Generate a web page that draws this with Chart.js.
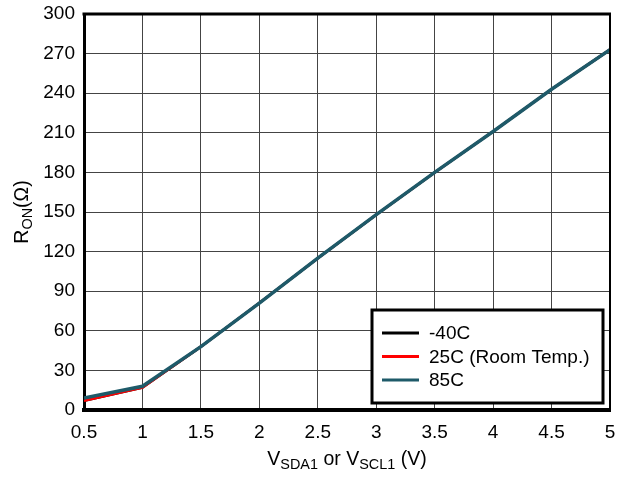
<!DOCTYPE html>
<html>
<head>
<meta charset="utf-8">
<script src="https://cdn.jsdelivr.net/npm/chart.js@4.4.0/dist/chart.umd.min.js"></script>
<style>
  html, body { margin: 0; padding: 0; background: #fff; }
  #wrap { width: 618px; height: 477px; }
</style>
</head>
<body>
<div id="wrap"><canvas id="ronChart" width="618" height="477"></canvas></div>
<script>
// Data
const voltages = [0.5, 1, 1.5, 2, 2.5, 3, 3.5, 4, 4.5, 5];
const ronMinus40 = [7, 17, 48, 81, 115, 148, 180, 211, 243, 273];
const ron25 = [7, 17, 48, 81, 115, 148, 180, 211, 243, 273];
const ron85 = [9, 18, 48, 81, 115, 148, 180, 211, 243, 273];
const seriesNames = ['-40C', '25C (Room Temp.)', '85C'];
const xTicks = [0.5, 1, 1.5, 2, 2.5, 3, 3.5, 4, 4.5, 5];
const yTicks = [0, 30, 60, 90, 120, 150, 180, 210, 240, 270, 300];

const FONT = 'Liberation Sans, Arial, sans-serif';

function toPoints(ys) {
    return voltages.map((v, i) => ({ x: v, y: ys[i] }));
}

// Kill the label overflow padding so the layout padding sets the plot box
function noOverflow(s) {
    s.paddingTop = 0;
    s.paddingBottom = 0;
    s.paddingLeft = 0;
    s.paddingRight = 0;
}

// Top/right frame lines
const framePlugin = {
    id: 'frame',
    afterDraw(chart) {
        const { ctx, chartArea: a } = chart;
        ctx.save();
        ctx.strokeStyle = '#000';
        ctx.lineWidth = 3;
        ctx.beginPath();
        ctx.moveTo(a.left - 1.5, a.top);
        ctx.lineTo(a.right + 1, a.top);
        ctx.stroke();
        ctx.lineWidth = 2;
        ctx.beginPath();
        ctx.moveTo(a.right, a.top);
        ctx.lineTo(a.right, a.bottom);
        ctx.stroke();
        ctx.restore();
    }
};

// Text with subscripts: parts = [[text, isSub], ...]
function drawParts(ctx, parts, x, y, size) {
    let total = 0;
    parts.forEach(p => {
        ctx.font = (p[1] ? size * 0.74 : size) + 'px ' + FONT;
        total += ctx.measureText(p[0]).width;
    });
    let cx = x - total / 2;
    parts.forEach(p => {
        ctx.font = (p[1] ? size * 0.74 : size) + 'px ' + FONT;
        ctx.fillText(p[0], cx, p[1] ? y + size * 0.2 : y);
        cx += ctx.measureText(p[0]).width;
    });
}

const titlePlugin = {
    id: 'titles',
    afterDraw(chart) {
        const { ctx, chartArea: a } = chart;
        ctx.save();
        ctx.fillStyle = '#000';
        ctx.textBaseline = 'alphabetic';
        ctx.textAlign = 'left';
        drawParts(ctx, [['V', false], ['SDA1', true], [' or V', false], ['SCL1', true], [' (V)', false]],
            (a.left + a.right) / 2, 465, 19.5);
        ctx.translate(28, (a.top + a.bottom) / 2);
        ctx.rotate(-Math.PI / 2);
        drawParts(ctx, [['R', false], ['ON', true], ['(\u03A9)', false]], 0, 0, 19.5);
        ctx.restore();
    }
};

// Boxed legend inside the plot
const legendBoxPlugin = {
    id: 'legendBox',
    afterDraw(chart) {
        const { ctx } = chart;
        const left = 372, top = 310, right = 603, bottom = 403;
        ctx.save();
        ctx.fillStyle = '#fff';
        ctx.fillRect(left, top, right - left, bottom - top);
        ctx.strokeStyle = '#000';
        ctx.lineWidth = 3;
        ctx.strokeRect(left, top, right - left, bottom - top);
        ctx.font = '19px ' + FONT;
        ctx.textBaseline = 'middle';
        ctx.textAlign = 'left';
        chart.data.datasets.forEach((ds, i) => {
            const y = 333 + i * 23.5;
            ctx.strokeStyle = ds.borderColor;
            ctx.lineWidth = 3;
            ctx.beginPath();
            ctx.moveTo(382, y);
            ctx.lineTo(419, y);
            ctx.stroke();
            ctx.fillStyle = '#000';
            ctx.fillText(ds.label, 429, y + 1);
        });
        ctx.restore();
    }
};

const ctx = document.getElementById('ronChart').getContext('2d');
const ronChart = new Chart(ctx, {
    type: 'line',
    data: {
        datasets: [
            {
                label: seriesNames[0],
                data: toPoints(ronMinus40),
                borderColor: '#000000',
                borderWidth: 2.5,
                pointRadius: 0,
                tension: 0,
                order: 2
            },
            {
                label: seriesNames[1],
                data: toPoints(ron25),
                borderColor: '#ff0000',
                borderWidth: 2.5,
                pointRadius: 0,
                tension: 0,
                order: 1
            },
            {
                label: seriesNames[2],
                data: toPoints(ron85),
                borderColor: '#1e5a69',
                borderWidth: 3.5,
                pointRadius: 0,
                tension: 0,
                order: 0
            }
        ]
    },
    options: {
        responsive: false,
        animation: false,
        layout: { padding: { top: 14, right: 8, left: 0, bottom: 0 } },
        plugins: {
            legend: { display: false },
            tooltip: { enabled: false }
        },
        scales: {
            x: {
                type: 'linear',
                min: 0.5,
                max: 5,
                afterBuildTicks: s => { s.ticks = xTicks.map(v => ({ value: v })); },
                afterFit: s => { s.height = 67; noOverflow(s); },
                ticks: {
                    color: '#000',
                    font: { family: FONT, size: 19 },
                    padding: 11,
                    maxRotation: 0,
                    autoSkip: false,
                    callback: v => String(v)
                },
                grid: { color: '#444', lineWidth: 1, drawTicks: false },
                border: { color: '#000', width: 4 }
            },
            y: {
                min: 0,
                max: 300,
                afterBuildTicks: s => { s.ticks = yTicks.map(v => ({ value: v })); },
                afterFit: s => { s.width = 84; noOverflow(s); },
                ticks: {
                    color: '#000',
                    font: { family: FONT, size: 19 },
                    padding: 9,
                    autoSkip: false,
                    callback: v => String(v)
                },
                grid: { color: '#444', lineWidth: 1, drawTicks: false },
                border: { color: '#000', width: 3 }
            }
        }
    },
    plugins: [framePlugin, titlePlugin, legendBoxPlugin]
});
</script>
</body>
</html>
